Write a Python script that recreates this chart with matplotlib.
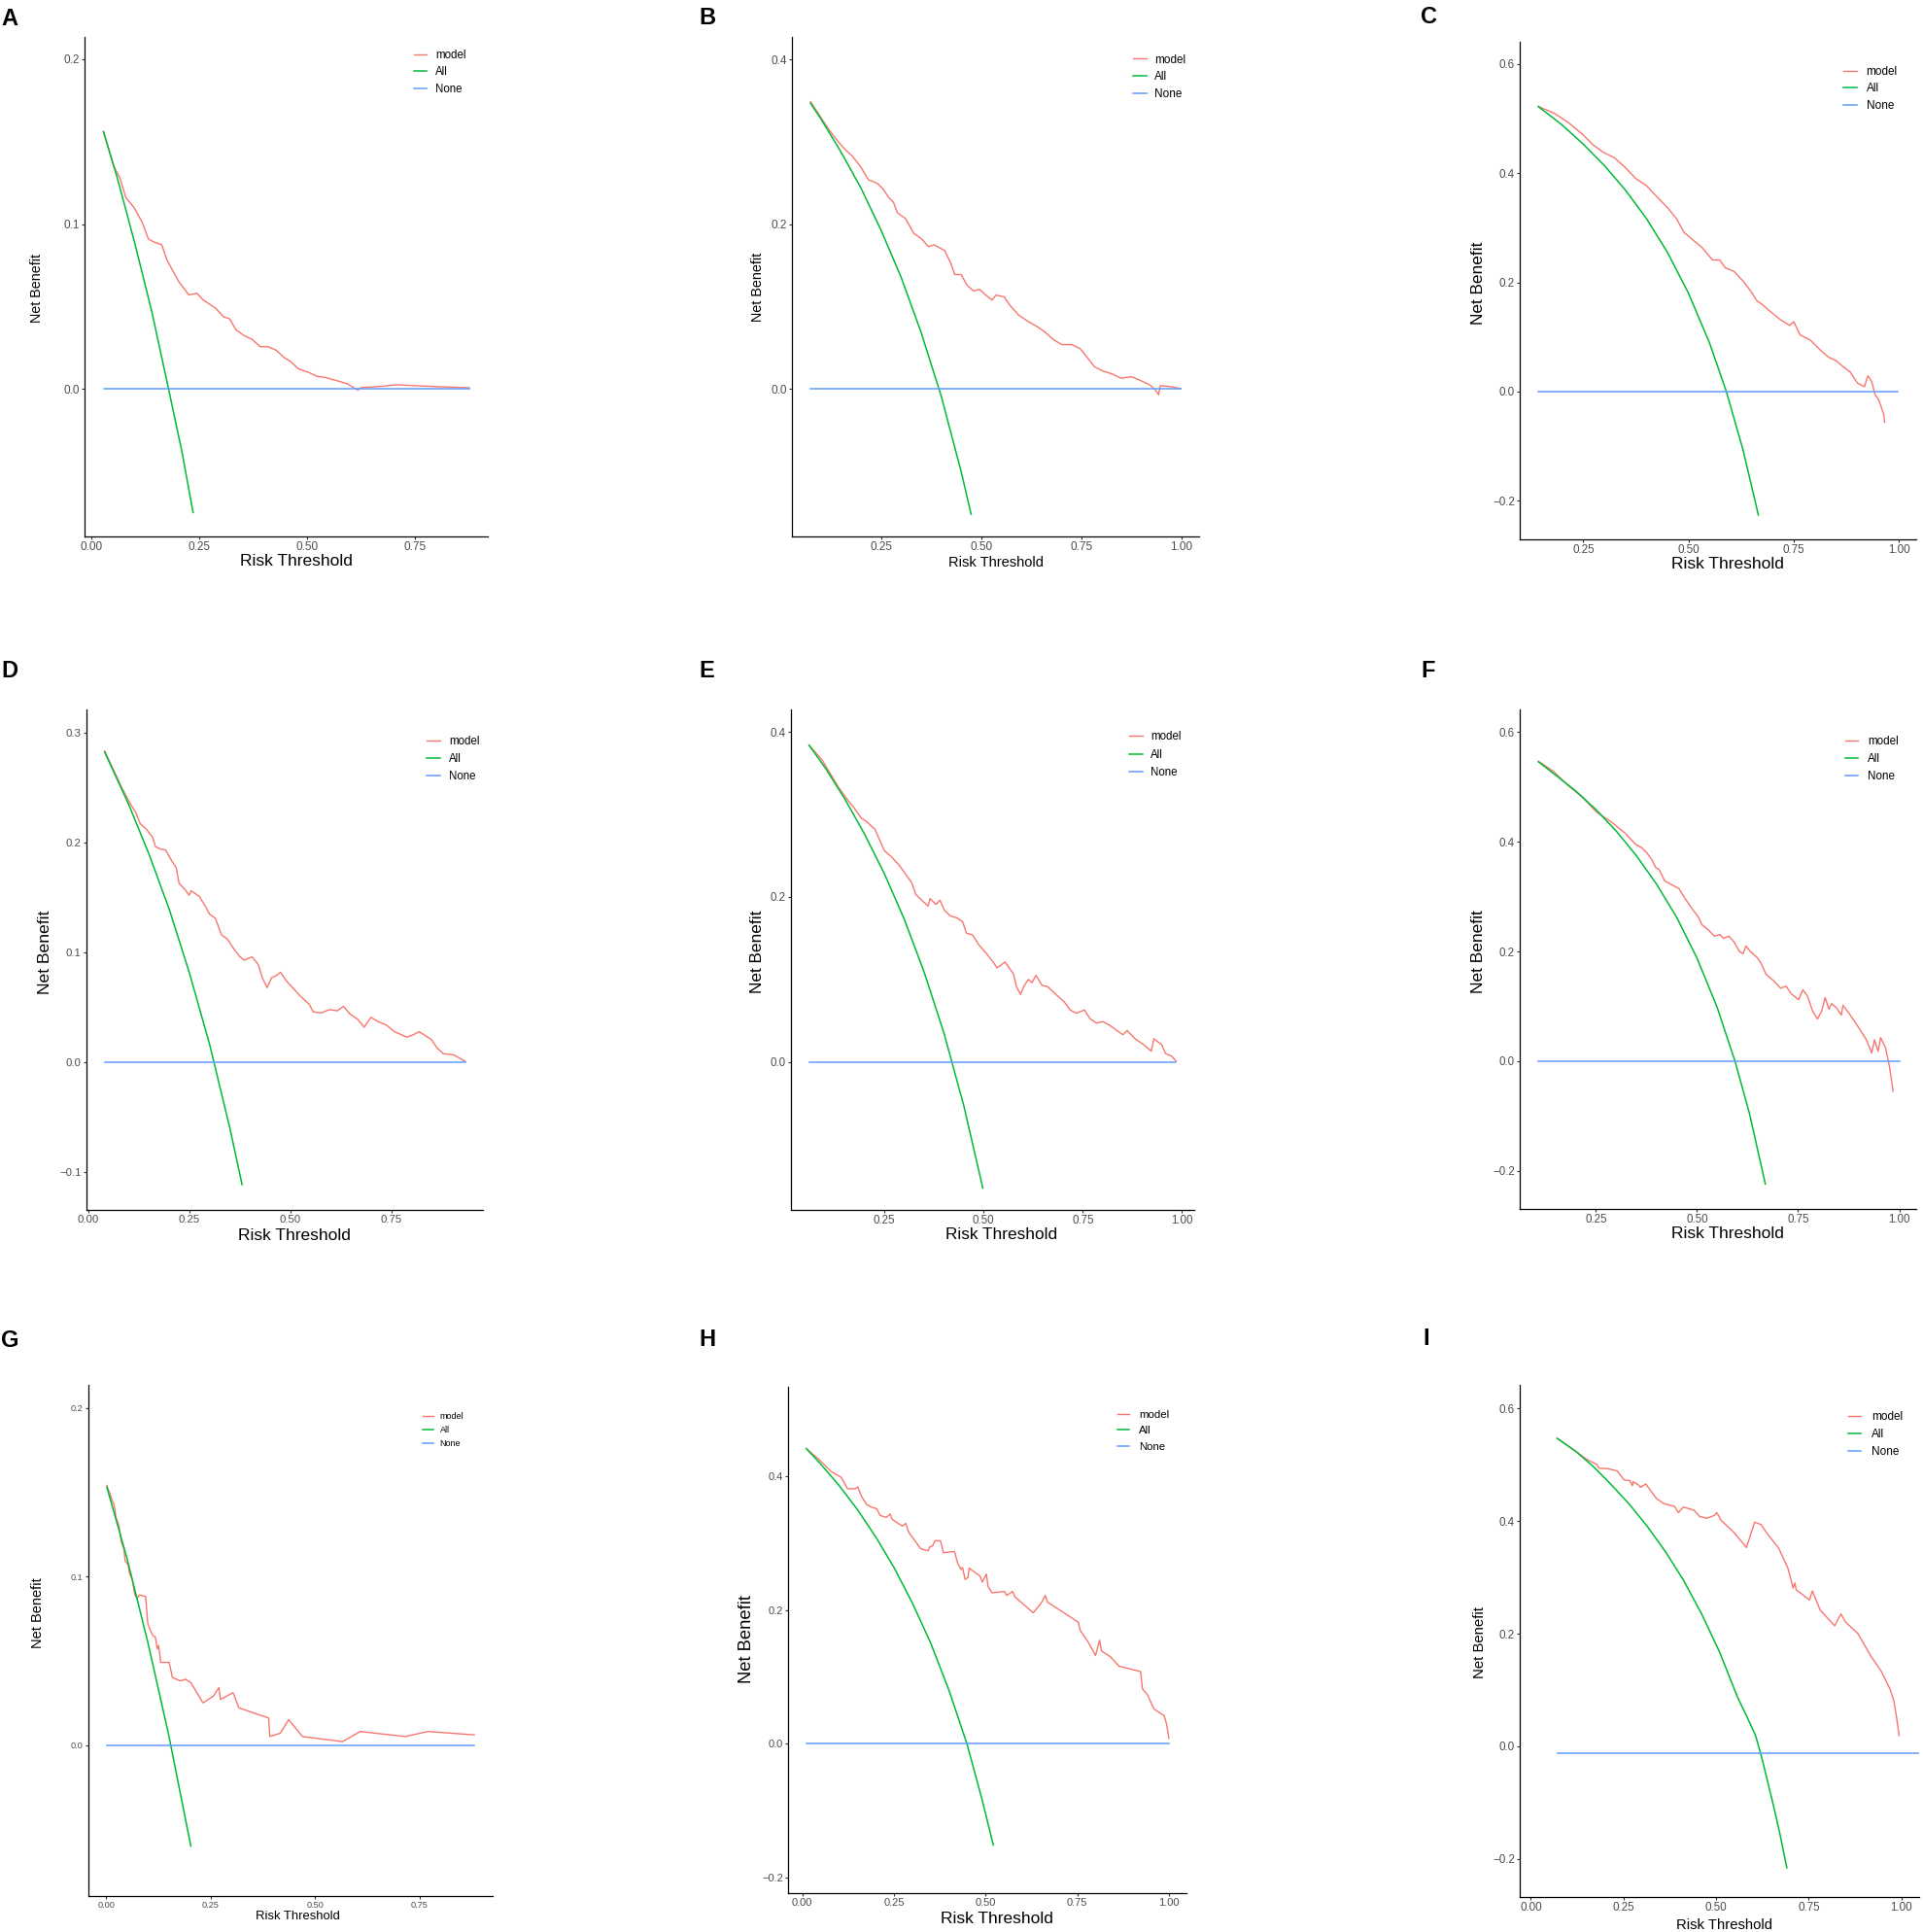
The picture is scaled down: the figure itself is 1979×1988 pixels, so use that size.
import matplotlib

matplotlib.use("Agg")
import matplotlib.pyplot as plt

plt.rcParams["font.family"] = ["Liberation Sans", "DejaVu Sans"]

COL_MODEL = "#F8766D"
COL_ALL = "#00BA38"
COL_NONE = "#619CFF"

legend_labels = ["model", "All", "None"]

# --- A ---
a_model = [(0.028, 0.156), (0.052, 0.135), (0.066, 0.128), (0.080, 0.116), (0.099, 0.110),
           (0.118, 0.101), (0.132, 0.091), (0.146, 0.089), (0.163, 0.0875), (0.175, 0.0785),
           (0.184, 0.074), (0.203, 0.065), (0.226, 0.057), (0.245, 0.058), (0.259, 0.054),
           (0.288, 0.049), (0.307, 0.0437), (0.321, 0.0425), (0.335, 0.036), (0.354, 0.0324),
           (0.373, 0.030), (0.392, 0.0256), (0.410, 0.0256), (0.429, 0.0234), (0.448, 0.0189),
           (0.462, 0.0166), (0.481, 0.0121), (0.505, 0.0099), (0.524, 0.0076), (0.542, 0.0070),
           (0.571, 0.0049), (0.594, 0.0031), (0.618, -0.0007), (0.627, 0.0009), (0.646, 0.0011),
           (0.675, 0.0016), (0.708, 0.0025), (0.750, 0.0020), (0.807, 0.0013), (0.877, 0.0007)]
a_all = [(0.028, 0.156), (0.06, 0.128), (0.10, 0.089), (0.14, 0.047), (0.179, 0.0),
         (0.21, -0.038), (0.236, -0.075)]
a_none_x = [0.028, 0.877]
a_none_y = [0.0, 0.0]
a_xticks = [0.0, 0.25, 0.5, 0.75]
a_yticks = [0.0, 0.1, 0.2]

# --- B ---
b_model = [(0.074, 0.349), (0.117, 0.317), (0.137, 0.304), (0.158, 0.292), (0.178, 0.283),
           (0.199, 0.270), (0.219, 0.254), (0.240, 0.250), (0.255, 0.243), (0.270, 0.232),
           (0.281, 0.227), (0.291, 0.214), (0.311, 0.207), (0.332, 0.189), (0.352, 0.182),
           (0.368, 0.173), (0.383, 0.175), (0.409, 0.168), (0.424, 0.153), (0.434, 0.139),
           (0.450, 0.139), (0.465, 0.126), (0.481, 0.119), (0.496, 0.121), (0.512, 0.114),
           (0.527, 0.108), (0.537, 0.114), (0.557, 0.112), (0.573, 0.101), (0.593, 0.090),
           (0.614, 0.083), (0.639, 0.076), (0.660, 0.069), (0.680, 0.060), (0.701, 0.054),
           (0.726, 0.054), (0.747, 0.049), (0.762, 0.040), (0.783, 0.027), (0.803, 0.022),
           (0.829, 0.018), (0.849, 0.013), (0.875, 0.015), (0.895, 0.011), (0.921, 0.005),
           (0.934, -0.0005), (0.943, -0.007), (0.947, 0.004), (0.972, 0.003), (0.998, 0.0005)]
b_all = [(0.074, 0.347), (0.10, 0.328), (0.15, 0.288), (0.20, 0.244), (0.25, 0.193),
         (0.30, 0.136), (0.35, 0.069), (0.40, -0.008), (0.45, -0.100), (0.475, -0.152)]
b_none_x = [0.074, 0.998]
b_none_y = [0.0, 0.0]
b_xticks = [0.25, 0.5, 0.75, 1.0]
b_yticks = [0.0, 0.2, 0.4]

# --- C ---
c_model = [(0.143, 0.522), (0.180, 0.510), (0.214, 0.493), (0.247, 0.472), (0.273, 0.452),
           (0.298, 0.438), (0.324, 0.428), (0.349, 0.411), (0.375, 0.390), (0.400, 0.377),
           (0.426, 0.356), (0.451, 0.336), (0.472, 0.316), (0.489, 0.292), (0.510, 0.278),
           (0.532, 0.264), (0.557, 0.241), (0.574, 0.241), (0.587, 0.227), (0.608, 0.220),
           (0.629, 0.203), (0.646, 0.186), (0.663, 0.166), (0.676, 0.159), (0.697, 0.145),
           (0.718, 0.132), (0.740, 0.121), (0.750, 0.128), (0.765, 0.104), (0.790, 0.094),
           (0.816, 0.074), (0.833, 0.063), (0.850, 0.057), (0.867, 0.046), (0.884, 0.036),
           (0.901, 0.016), (0.918, 0.009), (0.926, 0.029), (0.935, 0.019), (0.943, -0.005),
           (0.952, -0.015), (0.964, -0.042), (0.966, -0.056)]
c_all = [(0.143, 0.522), (0.20, 0.488), (0.25, 0.453), (0.30, 0.414), (0.35, 0.369),
         (0.40, 0.317), (0.45, 0.255), (0.50, 0.180), (0.55, 0.089), (0.59, 0.0),
         (0.63, -0.108), (0.666, -0.226)]
c_none_x = [0.143, 0.998]
c_none_y = [0.0, 0.0]
c_xticks = [0.25, 0.5, 0.75, 1.0]
c_yticks = [-0.2, 0.0, 0.2, 0.4, 0.6]

# --- D ---
d_model = [(0.040, 0.283), (0.082, 0.250), (0.102, 0.236), (0.117, 0.227), (0.128, 0.217),
           (0.143, 0.212), (0.158, 0.205), (0.166, 0.196), (0.178, 0.194), (0.191, 0.193),
           (0.203, 0.185), (0.217, 0.177), (0.224, 0.163), (0.239, 0.157), (0.249, 0.152),
           (0.254, 0.156), (0.274, 0.151), (0.289, 0.142), (0.299, 0.135), (0.314, 0.131),
           (0.329, 0.116), (0.344, 0.112), (0.360, 0.103), (0.375, 0.096), (0.385, 0.093),
           (0.405, 0.096), (0.420, 0.089), (0.430, 0.077), (0.442, 0.068), (0.453, 0.077),
           (0.465, 0.079), (0.475, 0.082), (0.490, 0.074), (0.505, 0.068), (0.525, 0.060),
           (0.546, 0.053), (0.556, 0.046), (0.576, 0.045), (0.596, 0.048), (0.616, 0.047),
           (0.631, 0.051), (0.647, 0.044), (0.667, 0.039), (0.682, 0.032), (0.699, 0.041),
           (0.717, 0.037), (0.737, 0.034), (0.757, 0.028), (0.788, 0.023), (0.803, 0.025),
           (0.818, 0.028), (0.848, 0.021), (0.863, 0.013), (0.878, 0.008), (0.903, 0.007),
           (0.918, 0.004), (0.932, 0.001)]
d_all = [(0.04, 0.282), (0.10, 0.234), (0.15, 0.189), (0.20, 0.139), (0.25, 0.081),
         (0.30, 0.016), (0.35, -0.060), (0.38, -0.111)]
d_none_x = [0.04, 0.932]
d_none_y = [0.0, 0.0]
d_xticks = [0.0, 0.25, 0.5, 0.75]
d_yticks = [-0.1, 0.0, 0.1, 0.2, 0.3]

# --- E ---
e_model = [(0.060, 0.384), (0.093, 0.366), (0.134, 0.333), (0.155, 0.319), (0.175, 0.307),
           (0.191, 0.296), (0.206, 0.291), (0.226, 0.282), (0.237, 0.270), (0.250, 0.256),
           (0.267, 0.249), (0.288, 0.238), (0.303, 0.228), (0.319, 0.217), (0.329, 0.203),
           (0.344, 0.196), (0.360, 0.189), (0.365, 0.198), (0.380, 0.191), (0.390, 0.196),
           (0.401, 0.184), (0.416, 0.177), (0.431, 0.175), (0.447, 0.170), (0.457, 0.156),
           (0.472, 0.154), (0.488, 0.142), (0.508, 0.131), (0.524, 0.121), (0.534, 0.114),
           (0.554, 0.121), (0.575, 0.107), (0.583, 0.091), (0.593, 0.082), (0.603, 0.093),
           (0.613, 0.100), (0.622, 0.096), (0.632, 0.105), (0.647, 0.093), (0.662, 0.091),
           (0.682, 0.082), (0.703, 0.073), (0.718, 0.063), (0.734, 0.059), (0.754, 0.063),
           (0.769, 0.052), (0.785, 0.047), (0.800, 0.049), (0.816, 0.045), (0.836, 0.038),
           (0.851, 0.033), (0.862, 0.038), (0.882, 0.028), (0.903, 0.021), (0.923, 0.013),
           (0.929, 0.028), (0.949, 0.021), (0.959, 0.010), (0.974, 0.007), (0.985, 0.001)]
e_all = [(0.06, 0.384), (0.10, 0.357), (0.15, 0.319), (0.20, 0.276), (0.25, 0.228),
         (0.30, 0.173), (0.35, 0.109), (0.40, 0.035), (0.45, -0.053), (0.498, -0.153)]
e_none_x = [0.06, 0.985]
e_none_y = [0.0, 0.0]
e_xticks = [0.25, 0.5, 0.75, 1.0]
e_yticks = [0.0, 0.2, 0.4]

# --- F ---
f_model = [(0.108, 0.547), (0.146, 0.528), (0.181, 0.503), (0.216, 0.482), (0.252, 0.454),
           (0.287, 0.437), (0.322, 0.416), (0.349, 0.395), (0.362, 0.390), (0.375, 0.381),
           (0.389, 0.367), (0.398, 0.353), (0.406, 0.350), (0.420, 0.329), (0.437, 0.322),
           (0.455, 0.315), (0.473, 0.294), (0.490, 0.276), (0.504, 0.262), (0.512, 0.249),
           (0.530, 0.238), (0.543, 0.228), (0.557, 0.231), (0.565, 0.224), (0.579, 0.228),
           (0.592, 0.217), (0.605, 0.200), (0.614, 0.196), (0.621, 0.210), (0.632, 0.200),
           (0.649, 0.189), (0.658, 0.179), (0.671, 0.158), (0.689, 0.147), (0.707, 0.133),
           (0.720, 0.137), (0.733, 0.123), (0.751, 0.112), (0.762, 0.130), (0.773, 0.119),
           (0.786, 0.091), (0.798, 0.077), (0.808, 0.091), (0.817, 0.116), (0.826, 0.095),
           (0.833, 0.105), (0.844, 0.098), (0.857, 0.084), (0.861, 0.102), (0.879, 0.084),
           (0.901, 0.060), (0.919, 0.039), (0.932, 0.015), (0.939, 0.039), (0.948, 0.018),
           (0.954, 0.043), (0.966, 0.025), (0.976, -0.010), (0.985, -0.055)]
f_all = [(0.108, 0.546), (0.15, 0.522), (0.20, 0.493), (0.25, 0.459), (0.30, 0.420),
         (0.35, 0.375), (0.40, 0.323), (0.45, 0.262), (0.50, 0.188), (0.55, 0.098),
         (0.594, 0.0), (0.63, -0.096), (0.669, -0.224)]
f_none_x = [0.108, 1.0]
f_none_y = [0.0, 0.0]
f_xticks = [0.25, 0.5, 0.75, 1.0]
f_yticks = [-0.2, 0.0, 0.2, 0.4, 0.6]

# --- G ---
g_model = [(0.002, 0.154), (0.012, 0.147), (0.020, 0.142), (0.024, 0.135), (0.031, 0.130),
           (0.036, 0.121), (0.043, 0.116), (0.046, 0.109), (0.053, 0.107), (0.056, 0.102),
           (0.063, 0.098), (0.069, 0.089), (0.075, 0.087), (0.080, 0.089), (0.095, 0.088),
           (0.100, 0.072), (0.108, 0.067), (0.112, 0.065), (0.118, 0.064), (0.123, 0.057),
           (0.126, 0.059), (0.131, 0.049), (0.139, 0.049), (0.151, 0.049), (0.159, 0.040),
           (0.178, 0.038), (0.190, 0.039), (0.203, 0.037), (0.232, 0.025), (0.257, 0.029),
           (0.270, 0.034), (0.274, 0.027), (0.296, 0.030), (0.304, 0.031), (0.318, 0.022),
           (0.389, 0.016), (0.392, 0.005), (0.417, 0.007), (0.437, 0.015), (0.470, 0.005),
           (0.566, 0.002), (0.608, 0.008), (0.716, 0.005), (0.770, 0.008), (0.881, 0.006)]
g_all = [(0.002, 0.153), (0.05, 0.111), (0.10, 0.061), (0.15, 0.006), (0.203, -0.060)]
g_none_x = [0.002, 0.881]
g_none_y = [0.0, 0.0]
g_xticks = [0.0, 0.25, 0.5, 0.75]
g_yticks = [0.0, 0.1, 0.2]

# --- H ---
h_model = [(0.011, 0.442), (0.045, 0.426), (0.078, 0.408), (0.106, 0.399), (0.123, 0.382),
           (0.145, 0.382), (0.151, 0.385), (0.162, 0.370), (0.176, 0.358), (0.190, 0.354),
           (0.203, 0.352), (0.212, 0.342), (0.229, 0.339), (0.240, 0.344), (0.245, 0.336),
           (0.273, 0.326), (0.282, 0.330), (0.290, 0.317), (0.323, 0.292), (0.343, 0.289),
           (0.348, 0.295), (0.355, 0.296), (0.362, 0.304), (0.377, 0.304), (0.385, 0.286),
           (0.415, 0.288), (0.424, 0.270), (0.433, 0.261), (0.437, 0.264), (0.444, 0.246),
           (0.452, 0.249), (0.455, 0.263), (0.485, 0.251), (0.491, 0.242), (0.502, 0.254),
           (0.507, 0.235), (0.518, 0.226), (0.552, 0.228), (0.557, 0.222), (0.574, 0.228),
           (0.580, 0.220), (0.630, 0.196), (0.652, 0.211), (0.663, 0.222), (0.669, 0.212),
           (0.753, 0.182), (0.758, 0.170), (0.780, 0.152), (0.800, 0.132), (0.811, 0.155),
           (0.816, 0.139), (0.841, 0.130), (0.864, 0.116), (0.923, 0.108), (0.928, 0.082),
           (0.942, 0.073), (0.959, 0.052), (0.987, 0.042), (0.994, 0.029), (1.000, 0.008)]
h_all = [(0.011, 0.442), (0.05, 0.419), (0.10, 0.387), (0.15, 0.351), (0.20, 0.310),
         (0.25, 0.264), (0.30, 0.211), (0.35, 0.151), (0.40, 0.080), (0.449, 0.0),
         (0.49, -0.083), (0.521, -0.152)]
h_none_x = [0.011, 1.0]
h_none_y = [0.0, 0.0]
h_xticks = [0.0, 0.25, 0.5, 0.75, 1.0]
h_yticks = [-0.2, 0.0, 0.2, 0.4]

# --- I ---
i_model = [(0.071, 0.547), (0.121, 0.524), (0.150, 0.510), (0.179, 0.500), (0.184, 0.494),
           (0.209, 0.493), (0.233, 0.489), (0.252, 0.473), (0.267, 0.472), (0.274, 0.463),
           (0.276, 0.470), (0.291, 0.464), (0.296, 0.460), (0.310, 0.466), (0.320, 0.457),
           (0.339, 0.440), (0.359, 0.431), (0.388, 0.426), (0.398, 0.415), (0.412, 0.425),
           (0.441, 0.419), (0.456, 0.408), (0.475, 0.405), (0.495, 0.410), (0.502, 0.415),
           (0.514, 0.401), (0.548, 0.380), (0.582, 0.353), (0.604, 0.398), (0.621, 0.394),
           (0.640, 0.376), (0.669, 0.352), (0.694, 0.316), (0.708, 0.281), (0.713, 0.290),
           (0.716, 0.278), (0.752, 0.260), (0.760, 0.276), (0.767, 0.264), (0.781, 0.242),
           (0.820, 0.214), (0.837, 0.235), (0.849, 0.221), (0.883, 0.200), (0.917, 0.161),
           (0.946, 0.133), (0.970, 0.101), (0.980, 0.080), (0.987, 0.052), (0.994, 0.019)]
i_all = [(0.071, 0.547), (0.121, 0.524), (0.170, 0.496), (0.218, 0.464), (0.267, 0.429),
         (0.315, 0.390), (0.364, 0.345), (0.412, 0.295), (0.461, 0.235), (0.509, 0.168),
         (0.558, 0.087), (0.585, 0.050), (0.606, 0.020), (0.620, -0.012), (0.637, -0.057),
         (0.654, -0.103), (0.672, -0.155), (0.691, -0.216)]
i_none_x = [0.071, 1.05]
i_none_y = [-0.012, -0.012]
i_xticks = [0.0, 0.25, 0.5, 0.75, 1.0]
i_yticks = [-0.2, 0.0, 0.2, 0.4, 0.6]

W, H = 1979, 1988

# layout: box = (left, top, right, bottom) in pixels; legend = (handle start, handle end,
# text start, first row, second row) in axes fractions
panels = [
    dict(tag="A", model=a_model, all=a_all, nx=a_none_x, ny=a_none_y, xt=a_xticks, yt=a_yticks,
         box=(87, 38, 502, 552), xlim=(-0.016, 0.92), ylim=(-0.0895, 0.2135),
         fs=(8.5, 12.5, 10.3, 8.3), leg=(0.817, 0.849, 0.871, 0.965, 0.933),
         xlab=(0.524, -0.050), ylab=(-0.117, 0.498), pos=(1, 8)),
    dict(tag="B", model=b_model, all=b_all, nx=b_none_x, ny=b_none_y, xt=b_xticks, yt=b_yticks,
         box=(815, 38, 1234, 552), xlim=(0.0277, 1.044), ylim=(-0.179, 0.4275),
         fs=(8.5, 10.5, 10.4, 8.5), leg=(0.837, 0.871, 0.891, 0.955, 0.922),
         xlab=(0.501, -0.053), ylab=(-0.084, 0.50), pos=(719, 7)),
    dict(tag="C", model=c_model, all=c_all, nx=c_none_x, ny=c_none_y, xt=c_xticks, yt=c_yticks,
         box=(1564, 43, 1972, 555), xlim=(0.099, 1.041), ylim=(-0.2705, 0.6405),
         fs=(8.4, 12.5, 12.4, 8.5), leg=(0.817, 0.851, 0.874, 0.941, 0.908),
         xlab=(0.524, -0.049), ylab=(-0.104, 0.515), pos=(1462, 6)),
    dict(tag="D", model=d_model, all=d_all, nx=d_none_x, ny=d_none_y, xt=d_xticks, yt=d_yticks,
         box=(89, 730, 497, 1245), xlim=(-0.005, 0.976), ylim=(-0.134, 0.3208),
         fs=(8.2, 12.5, 12.6, 8.3), leg=(0.857, 0.893, 0.914, 0.937, 0.904),
         xlab=(0.524, -0.051), ylab=(-0.104, 0.514), pos=(1, 679)),
    dict(tag="E", model=e_model, all=e_all, nx=e_none_x, ny=e_none_y, xt=e_xticks, yt=e_yticks,
         box=(814, 730, 1229, 1245), xlim=(0.0143, 1.031), ylim=(-0.1795, 0.4274),
         fs=(8.3, 12.4, 12.4, 8.3), leg=(0.839, 0.872, 0.892, 0.946, 0.913),
         xlab=(0.523, -0.050), ylab=(-0.084, 0.515), pos=(719, 679)),
    dict(tag="F", model=f_model, all=f_all, nx=f_none_x, ny=f_none_y, xt=f_xticks, yt=f_yticks,
         box=(1564, 730, 1972, 1244), xlim=(0.0618, 1.042), ylim=(-0.2695, 0.6415),
         fs=(8.3, 12.5, 12.5, 8.4), leg=(0.821, 0.854, 0.877, 0.937, 0.904),
         xlab=(0.524, -0.050), ylab=(-0.104, 0.515), pos=(1462, 679)),
    dict(tag="G", model=g_model, all=g_all, nx=g_none_x, ny=g_none_y, xt=g_xticks, yt=g_yticks,
         box=(91, 1425, 507, 1951), xlim=(-0.042, 0.925), ylim=(-0.0896, 0.2136),
         fs=(6.6, 9.4, 10.5, 6.5), leg=(0.828, 0.853, 0.869, 0.938, 0.913),
         xlab=(0.517, -0.039), ylab=(-0.125, 0.554), pos=(1, 1368)),
    dict(tag="H", model=h_model, all=h_all, nx=h_none_x, ny=h_none_y, xt=h_xticks, yt=h_yticks,
         box=(811, 1427, 1221, 1948), xlim=(-0.039, 1.048), ylim=(-0.224, 0.5347),
         fs=(8.0, 12.5, 13.2, 8.2), leg=(0.826, 0.857, 0.880, 0.944, 0.911),
         xlab=(0.524, -0.050), ylab=(-0.103, 0.502), pos=(719, 1367)),
    dict(tag="I", model=i_model, all=i_all, nx=i_none_x, ny=i_none_y, xt=i_xticks, yt=i_yticks,
         box=(1564, 1425, 1975, 1952), xlim=(-0.030, 1.048), ylim=(-0.2678, 0.642),
         fs=(8.4, 10.7, 10.7, 8.5), leg=(0.823, 0.855, 0.880, 0.938, 0.906),
         xlab=(0.512, -0.055), ylab=(-0.100, 0.498), pos=(1464, 1366)),
]


def fmt(v, nd):
    s = f"{abs(v):.{nd}f}"
    return "\u2212" + s if v < 0 else s


fig = plt.figure(figsize=(W / 100, H / 100), dpi=100)

for p in panels:
    l, t, r, b = p["box"]
    ax = fig.add_axes([l / W, 1 - b / H, (r - l) / W, (b - t) / H])
    mx, my = zip(*p["model"])
    ax_, ay = zip(*p["all"])
    h1, = ax.plot(mx, my, color=COL_MODEL, lw=1.0)
    h2, = ax.plot(ax_, ay, color=COL_ALL, lw=1.1)
    h3, = ax.plot(p["nx"], p["ny"], color=COL_NONE, lw=1.1)
    ax.set_xlim(*p["xlim"])
    ax.set_ylim(*p["ylim"])

    tick_fs, xlab_fs, ylab_fs, leg_fs = p["fs"]
    ax.set_xticks(p["xt"])
    ax.set_xticklabels([fmt(v, 2) for v in p["xt"]])
    ax.set_yticks(p["yt"])
    ax.set_yticklabels([fmt(v, 1) for v in p["yt"]])
    ax.tick_params(labelsize=tick_fs, labelcolor="#4D4D4D", color="#333333",
                   length=2.2, width=0.8, pad=1.5)
    for side in ("top", "right"):
        ax.spines[side].set_visible(False)
    for side in ("left", "bottom"):
        ax.spines[side].set_linewidth(0.9)

    ax.set_xlabel("Risk Threshold", fontsize=xlab_fs, ha="center", va="center")
    ax.xaxis.set_label_coords(*p["xlab"])
    ax.set_ylabel("Net Benefit", fontsize=ylab_fs, ha="center", va="center")
    ax.yaxis.set_label_coords(*p["ylab"])

    # legend placed to match the reference
    hx0, hx1, tx, row0, row1 = p["leg"]
    wpx, hpx = r - l, b - t
    fs_px = leg_fs * 100 / 72
    ax.legend([h1, h2, h3], legend_labels, loc="upper left",
              bbox_to_anchor=(hx0, row0 + 0.47 * fs_px / hpx),
              frameon=False, fontsize=leg_fs, borderpad=0, borderaxespad=0,
              handlelength=(hx1 - hx0) * wpx / fs_px,
              handletextpad=(tx - hx1) * wpx / fs_px,
              labelspacing=(row0 - row1) * hpx / fs_px - 0.94)

    x0, y0 = p["pos"]
    fig.text(x0 / W, 1 - y0 / H, p["tag"], fontsize=17, fontweight="bold",
             ha="left", va="top")

fig.savefig("out.png", dpi=100)
plt.close(fig)
